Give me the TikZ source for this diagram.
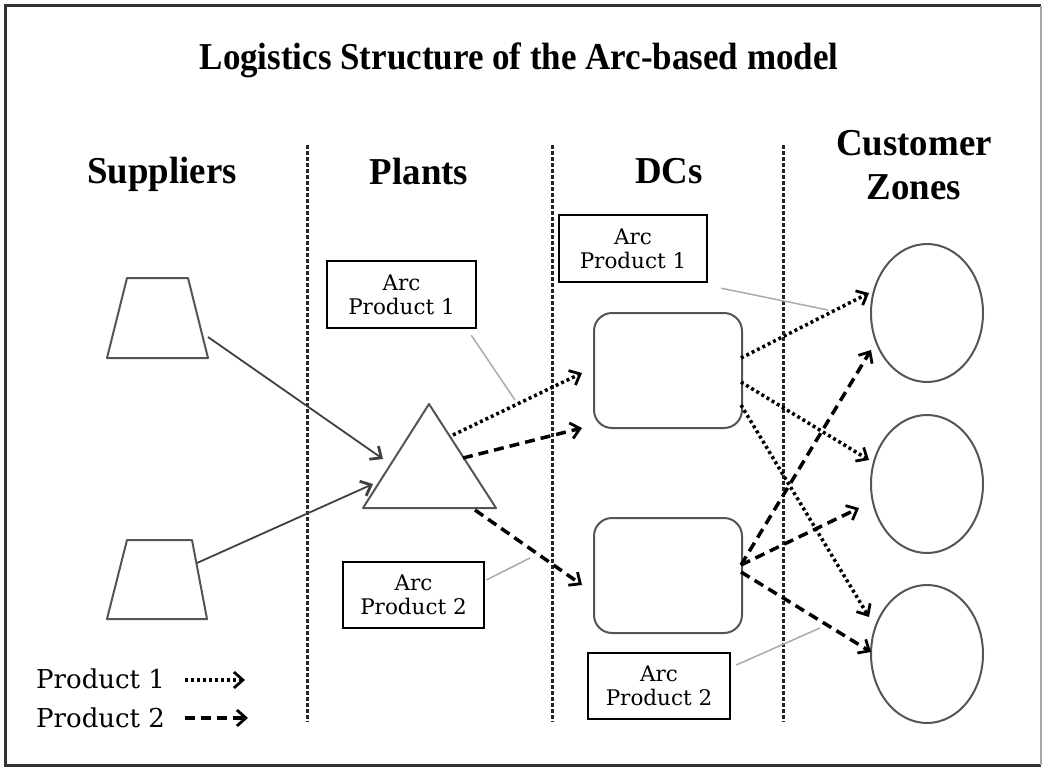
\documentclass[tikz,border=0pt]{standalone}
\usepackage{fontspec}
\usetikzlibrary{arrows.meta,shapes.geometric}
\newfontfamily\hdfont[FakeStretch=0.97]{Liberation Serif}
\newfontfamily\ttlfont[FakeStretch=0.92]{Liberation Serif}
\newfontfamily\smfont{DejaVu Serif}
\definecolor{shapegray}{RGB}{85,85,85}
\definecolor{leadgray}{RGB}{170,170,170}
\begin{document}
\begin{tikzpicture}[x=1pt,y=-1pt,
  hdr/.style={font=\hdfont\bfseries\fontsize{38}{44}\selectfont, anchor=base, inner sep=0pt},
  arcbox/.style={draw=black, line width=2.5pt, fill=white, inner sep=0pt, align=center,
     font=\smfont\fontsize{21.5}{24}\selectfont},
  dcbox/.style={draw=shapegray, line width=2pt, rounded corners=18pt, minimum width=148pt, minimum height=115pt, inner sep=0pt},
  zone/.style={draw=shapegray, line width=2pt, ellipse, minimum width=112pt, minimum height=138pt, inner sep=0pt},
  sep/.style={draw=black!85, line width=3pt, dash pattern=on 4pt off 2pt},
  tip/.style={-{Straight Barb[length=9pt,width=16pt,line width=2.8pt]}},
  solidarr/.style={tip, draw=black!75, line width=1.8pt},
  dotarr/.style={tip, draw=black, line width=3.5pt, dash pattern=on 3pt off 3pt},
  dasharr/.style={tip, draw=black, line width=3.5pt, dash pattern=on 10pt off 6pt},
  leader/.style={draw=leadgray, line width=1.5pt},
  shp/.style={draw=shapegray, line width=2pt, line join=round},
  legtxt/.style={font=\smfont\fontsize{26}{30}\selectfont, anchor=base west, inner sep=0pt}
]
\useasboundingbox (0,0) rectangle (1044,768);
% frame
\draw[draw=black!80, line width=3pt] (1041,765) -- (5,765) -- (5,6) -- (1041,6);
\draw[draw=black!35, line width=2pt] (1041,6) -- (1041,765);

% title and headers
\node[hdr, font=\ttlfont\bfseries\fontsize{38}{44}\selectfont] (title) at (519,70) {Logistics Structure of the Arc-based model};
\node[hdr] (hsup) at (162,183) {Suppliers};
\node[hdr] (hpla) at (419,184) {Plants};
\node[hdr] (hdc) at (669,183) {DCs};
\node[hdr] (hcus) at (914,155) {Customer};
\node[hdr] (hzon) at (914,199) {Zones};

% separators
\coordinate (s1t) at (307,145); \coordinate (s1b) at (307,722);
\coordinate (s2t) at (552,145); \coordinate (s2b) at (552,722);
\coordinate (s3t) at (783,145); \coordinate (s3b) at (783,722);
\draw[sep] (s1t) -- (s1b);
\draw[sep] (s2t) -- (s2b);
\draw[sep] (s3t) -- (s3b);

% suppliers (trapezoids)
\draw[shp] (127,278) -- (188,278) -- (208,358) -- (107,358) -- cycle;
\draw[shp] (127,540) -- (192,540) -- (207,619) -- (107,619) -- cycle;
\coordinate (sup1) at (208,337);
\coordinate (sup2) at (197,563);

% plant (triangle)
\draw[shp] (429,404) -- (496,508) -- (363,508) -- cycle;
\coordinate (plin1) at (383,459);
\coordinate (plin2) at (373,484);
\coordinate (plo1) at (453,435);
\coordinate (plo2) at (463,458);
\coordinate (plo3) at (475,510);

% DCs
\node[dcbox] (dc1) at (668,370.5) {};
\node[dcbox] (dc2) at (668,575.5) {};

% customer zones
\node[zone] (z1) at (927,313) {};
\node[zone] (z2) at (927,484) {};
\node[zone] (z3) at (927,654) {};

% arc boxes
\node[arcbox, minimum width=149pt, minimum height=67pt] (a1) at (401.5,294.5) {Arc\\Product 1};
\node[arcbox, minimum width=148pt, minimum height=67pt] (a2) at (633,248.5) {Arc\\Product 1};
\node[arcbox, minimum width=141pt, minimum height=66pt] (a3) at (413.5,595) {Arc\\Product 2};
\node[arcbox, minimum width=142pt, minimum height=66pt] (a4) at (659,686) {Arc\\Product 2};

% leaders
\coordinate (l1) at (515,400);
\coordinate (l2) at (828,310);
\coordinate (l3) at (530,558);
\coordinate (l4) at (820,628);
\draw[leader] ([shift={(-6,6)}]a1.south east) -- (l1);
\draw[leader] ([shift={(13,5)}]a2.south east) -- (l2);
\draw[leader] ([shift={(1,-15)}]a3.east) -- (l3);
\draw[leader] ([shift={(5,-21)}]a4.east) -- (l4);

% supplier -> plant
\draw[solidarr] (sup1) -- (plin1);
\draw[solidarr] (sup2) -- (plin2);

% plant -> DCs
\draw[dotarr] (plo1) -- ([shift={(-11,2.5)}]dc1.west);
\draw[dasharr] (plo2) -- ([shift={(-11,57.5)}]dc1.west);
\draw[dasharr] (plo3) -- ([shift={(-11,9.5)}]dc2.west);

% DC1 -> zones (product 1)
\draw[dotarr] ([shift={(-2,-12.5)}]dc1.east) -- ([shift={(-1,-20)}]z1.west);
\draw[dotarr] ([shift={(-2,11.5)}]dc1.east) -- ([shift={(-1,-24)}]z2.west);
\draw[dotarr] ([shift={(-2,34.5)}]dc1.east) -- ([shift={(-1,-37)}]z3.west);

% DC2 -> zones (product 2)
\draw[dasharr] ([shift={(-2,-10.5)}]dc2.east) -- ([shift={(1,37)}]z1.west);
\draw[dasharr] ([shift={(-2,-10.5)}]dc2.east) -- ([shift={(-11,24)}]z2.west);
\draw[dasharr] ([shift={(-2,-3.5)}]dc2.east) -- ([shift={(1,-2)}]z3.west);

% legend
\node[legtxt] (leg1) at (36,688) {Product 1};
\node[legtxt] (leg2) at (36,727) {Product 2};
\coordinate (leg1e) at (245,680);
\coordinate (leg2e) at (248,718);
\draw[dotarr] ([xshift=20pt]leg1.east |- leg1e) -- (leg1e);
\draw[dasharr] ([xshift=20pt]leg2.east |- leg2e) -- (leg2e);
\end{tikzpicture}
\end{document}
